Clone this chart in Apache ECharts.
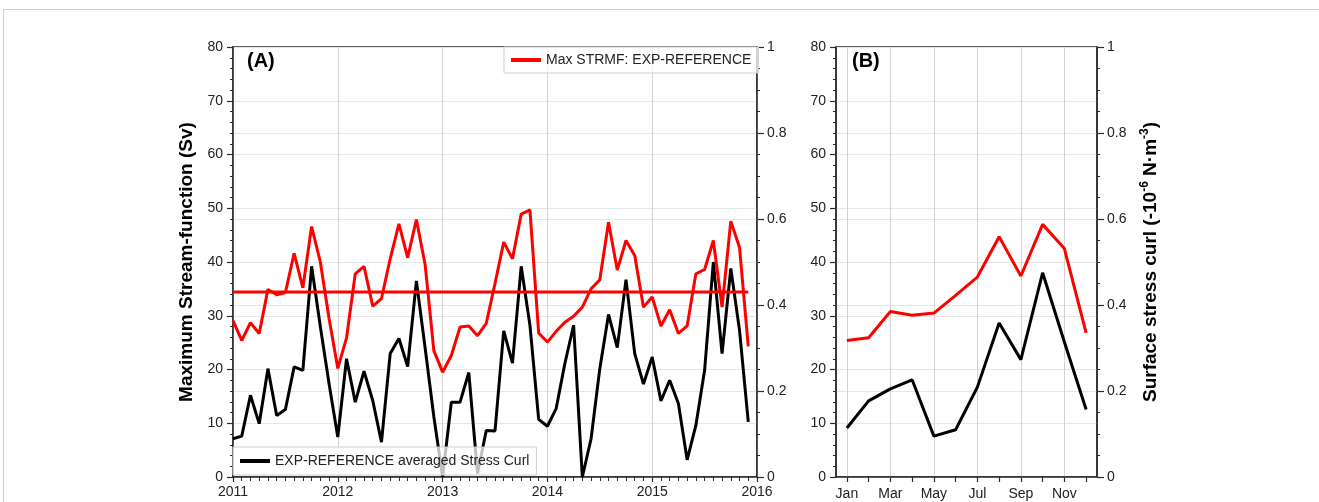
<!DOCTYPE html>
<html>
<head>
<meta charset="utf-8">
<script src="https://cdn.jsdelivr.net/npm/echarts@6/dist/echarts.min.js"></script>
<style>
  html, body { margin: 0; padding: 0; background: #fff; }
  #frame { position: absolute; left: 3px; top: 9px; right: 0; bottom: 0; border-top: 1px solid #cfcfcf; border-left: 1px solid #cfcfcf; }
  #chart { position: absolute; left: 0; top: 0; width: 1319px; height: 502px; }
</style>
</head>
<body>
<div id="frame"></div>
<div id="chart"></div>
<script>
// ---------- Data ----------
const startYear = 2011;
const yearTicks = [2011, 2012, 2013, 2014, 2015, 2016];
// Panel A: monthly values Jan 2011 .. Dec 2015
const strmfMonthly = [
  29.1, 25.4, 28.7, 26.7, 34.9, 33.9, 34.3, 41.6, 35.2, 46.6, 40.0, 29.5,
  20.2, 25.9, 37.8, 39.2, 31.8, 33.2, 40.6, 47.1, 40.8, 47.9, 39.5, 23.5,
  19.5, 22.6, 27.9, 28.1, 26.3, 28.6, 36.0, 43.7, 40.6, 48.9, 49.7, 26.8,
  25.1, 27.1, 28.8, 29.9, 31.6, 35.0, 36.7, 47.4, 38.5, 44.0, 41.2, 31.6,
  33.5, 28.1, 31.1, 26.7, 28.1, 37.8, 38.6, 44.0, 31.6, 47.6, 42.7, 24.3
];
const curlMonthly = [
  0.089, 0.095, 0.190, 0.124, 0.252, 0.143, 0.157, 0.256, 0.248, 0.490, 0.350, 0.217,
  0.093, 0.275, 0.174, 0.246, 0.178, 0.081, 0.287, 0.322, 0.257, 0.456, 0.300, 0.140,
  0.000, 0.174, 0.174, 0.243, 0.008, 0.108, 0.107, 0.340, 0.265, 0.490, 0.353, 0.134,
  0.118, 0.159, 0.264, 0.353, 0.000, 0.089, 0.252, 0.378, 0.301, 0.459, 0.287, 0.216,
  0.279, 0.177, 0.225, 0.171, 0.040, 0.120, 0.248, 0.500, 0.287, 0.485, 0.341, 0.128
];
const strmfMean = 34.4;
// Panel B: monthly climatology
const months = ['Jan','Feb','Mar','Apr','May','Jun','Jul','Aug','Sep','Oct','Nov','Dec'];
const strmfClim = [25.4, 25.9, 30.8, 30.1, 30.5, 33.8, 37.2, 44.7, 37.4, 47.0, 42.5, 26.8];
const curlClim  = [0.114, 0.177, 0.205, 0.226, 0.095, 0.110, 0.209, 0.358, 0.273, 0.475, 0.314, 0.157];
const monthLabelIdx = [1, 3, 5, 7, 9, 11];
const leftTicks = [0, 10, 20, 30, 40, 50, 60, 70, 80];
const rightTicks = [0, 0.2, 0.4, 0.6, 0.8, 1];

const nameRed = 'Max STRMF: EXP-REFERENCE';
const nameBlack = 'EXP-REFERENCE averaged Stress Curl';

// ---------- Build ----------
const toTime = (i) => startYear + i / 12;
const redA = strmfMonthly.map((v, i) => [toTime(i), v]);
const blackA = curlMonthly.map((v, i) => [toTime(i), v]);
const meanA = [[toTime(0), strmfMean], [toTime(strmfMonthly.length - 1), strmfMean]];
const redB = strmfClim.map((v, i) => [i + 1, v]);
const blackB = curlClim.map((v, i) => [i + 1, v]);

const FONT = 'Liberation Sans, Arial, Helvetica, sans-serif';
const AXIS = '#2b2b2b';
const GRIDC = '#e6e6e6';

function yLeft(grid, withName) {
  return {
    type: 'value', gridIndex: grid, position: 'left',
    min: leftTicks[0], max: leftTicks[leftTicks.length - 1], interval: 10,
    axisLine: { show: true, lineStyle: { color: AXIS, width: 1.5 } },
    axisTick: { show: true, inside: false, length: 6, lineStyle: { color: AXIS, width: 1.2 } },
    minorTick: { show: true, splitNumber: 5, length: 3, lineStyle: { color: AXIS, width: 1 } },
    axisLabel: { color: '#222', fontSize: 14, fontFamily: FONT, margin: 10 },
    splitLine: { show: true, lineStyle: { color: GRIDC, width: 1 } },
    name: withName ? 'Maximum Stream-function (Sv)' : '',
    nameLocation: 'middle', nameRotate: 90, nameGap: 37,
    nameTextStyle: { fontSize: 19, fontWeight: 'bold', color: '#000', fontFamily: FONT }
  };
}
function yRight(grid, withName) {
  return {
    type: 'value', gridIndex: grid, position: 'right',
    min: rightTicks[0], max: rightTicks[rightTicks.length - 1], interval: 0.2,
    axisLine: { show: true, lineStyle: { color: AXIS, width: 1.5 } },
    axisTick: { show: true, inside: false, length: 7, lineStyle: { color: AXIS, width: 1.2 } },
    minorTick: { show: true, splitNumber: 4, length: 3, lineStyle: { color: AXIS, width: 1 } },
    axisLabel: { color: '#222', fontSize: 14, fontFamily: FONT, margin: 10 },
    splitLine: { show: true, lineStyle: { color: GRIDC, width: 1 } },
    name: withName ? '{b|Surface stress curl (-10}{s|-6}{b| N·m}{s|-3}{b|)}' : '',
    nameLocation: 'middle', nameRotate: 90, nameGap: 42,
    nameTextStyle: {
      fontFamily: FONT,
      rich: {
        b: { fontSize: 19, fontWeight: 'bold', color: '#000', fontFamily: FONT, lineHeight: 24 },
        s: { fontSize: 12, fontWeight: 'bold', color: '#000', fontFamily: FONT, verticalAlign: 'top', lineHeight: 24, padding: [0, 0, 9, 0] }
      }
    }
  };
}

const option = {
  animation: false,
  backgroundColor: 'transparent',
  title: [
    { text: '(A)', left: 242, top: 46, textStyle: { fontSize: 20, fontWeight: 'bold', color: '#000', fontFamily: FONT } },
    { text: '(B)', left: 847, top: 46, textStyle: { fontSize: 20, fontWeight: 'bold', color: '#000', fontFamily: FONT } }
  ],
  grid: [
    { left: 233, top: 47, width: 524, height: 430, show: true, borderColor: AXIS, borderWidth: 1.5, backgroundColor: 'transparent' },
    { left: 836, top: 47, width: 261, height: 430, show: true, borderColor: AXIS, borderWidth: 1.5, backgroundColor: 'transparent' }
  ],
  legend: [
    {
      data: [nameRed], left: 504, top: 47, orient: 'horizontal',
      icon: 'rect', itemWidth: 30, itemHeight: 4, itemGap: 6,
      padding: [6, 7, 6, 7],
      backgroundColor: 'rgba(255,255,255,0.75)', borderColor: '#cfcfcf', borderWidth: 1,
      textStyle: { fontSize: 14, color: '#222', fontFamily: FONT }
    },
    {
      data: [nameBlack], left: 233, top: 447, orient: 'horizontal',
      icon: 'rect', itemWidth: 30, itemHeight: 4, itemGap: 6,
      padding: [7, 7, 7, 7],
      backgroundColor: 'rgba(255,255,255,0.75)', borderColor: '#cfcfcf', borderWidth: 1,
      textStyle: { fontSize: 14, color: '#222', fontFamily: FONT }
    }
  ],
  xAxis: [
    {
      type: 'value', gridIndex: 0, position: 'bottom',
      min: yearTicks[0], max: yearTicks[yearTicks.length - 1], interval: 1,
      axisLine: { show: true, onZero: false, lineStyle: { color: AXIS, width: 1.5 } },
      axisTick: { show: true, inside: false, length: 5, lineStyle: { color: AXIS, width: 1.2 } },
      minorTick: { show: true, splitNumber: 12, length: 4, lineStyle: { color: AXIS, width: 1 } },
      axisLabel: { color: '#222', fontSize: 14, fontFamily: FONT, margin: 8, formatter: (v) => String(Math.round(v)) },
      splitLine: { show: true, lineStyle: { color: '#d2d2d2', width: 1 } }
    },
    {
      type: 'value', gridIndex: 1, position: 'bottom',
      min: 0.5, max: 12.5,
      axisLine: { show: true, onZero: false, lineStyle: { color: AXIS, width: 1.5 } },
      axisTick: { show: true, inside: false, length: 5, customValues: months.map((m, i) => i + 1), lineStyle: { color: AXIS, width: 1.2 } },
      axisLabel: { color: '#222', fontSize: 14, fontFamily: FONT, margin: 10, customValues: monthLabelIdx, formatter: (v) => months[Math.round(v) - 1] },
      splitLine: { show: true, lineStyle: { color: ['#d2d2d2', 'rgba(0,0,0,0)'], width: 1 } }
    }
  ],
  yAxis: [ yLeft(0, true), yRight(0, false), yLeft(1, false), yRight(1, true) ],
  series: [
    { name: nameBlack, type: 'line', xAxisIndex: 0, yAxisIndex: 1, data: blackA, showSymbol: false, symbol: 'none',
      lineStyle: { color: '#000', width: 3 }, itemStyle: { color: '#000' }, z: 2 },
    { name: nameRed, type: 'line', xAxisIndex: 0, yAxisIndex: 0, data: redA, showSymbol: false, symbol: 'none',
      lineStyle: { color: '#ff0000', width: 3 }, itemStyle: { color: '#ff0000' }, z: 3 },
    { name: 'mean', type: 'line', xAxisIndex: 0, yAxisIndex: 0, data: meanA, showSymbol: false, symbol: 'none',
      lineStyle: { color: '#ff0000', width: 3 }, itemStyle: { color: '#ff0000' }, z: 3 },
    { name: nameRed, type: 'line', xAxisIndex: 1, yAxisIndex: 2, data: redB, showSymbol: false, symbol: 'none',
      lineStyle: { color: '#ff0000', width: 3 }, itemStyle: { color: '#ff0000' }, z: 3 },
    { name: nameBlack, type: 'line', xAxisIndex: 1, yAxisIndex: 3, data: blackB, showSymbol: false, symbol: 'none',
      lineStyle: { color: '#000', width: 3 }, itemStyle: { color: '#000' }, z: 2 }
  ]
};

const chart = echarts.init(document.getElementById('chart'), null, { renderer: 'canvas', width: 1319, height: 502 });
chart.setOption(option);
</script>
</body>
</html>
